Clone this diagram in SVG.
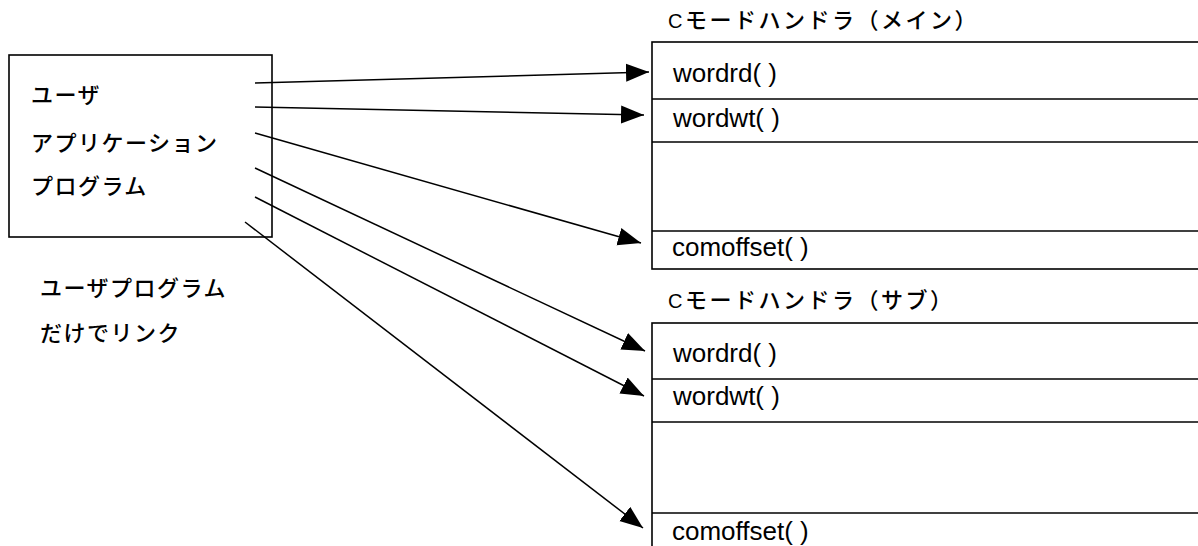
<svg xmlns="http://www.w3.org/2000/svg" width="1198" height="546" viewBox="0 0 1198 546">
<style>
.box{fill:#fff;stroke:#000;stroke-width:1.6}
.ln{stroke:#000;stroke-width:1.5;fill:none}
.jp{font-family:"Liberation Sans","Noto Sans CJK JP",sans-serif;font-size:22px;font-weight:500;letter-spacing:1.5px;fill:#000}
.ttl{font-family:"Liberation Sans","Noto Sans CJK JP",sans-serif;font-size:22px;font-weight:500;letter-spacing:2.5px;fill:#000}
.c{font-size:20px;font-weight:400}
.fn{font-family:"Liberation Sans","Noto Sans CJK JP",sans-serif;font-size:26px;fill:#000}
.arr{stroke:#000;stroke-width:1.5;fill:none;marker-end:url(#ah)}
</style>
<defs>
<marker id="ah" markerUnits="userSpaceOnUse" markerWidth="24" markerHeight="20" viewBox="0 0 24 20" refX="23" refY="10" orient="auto">
<path d="M0,1 L23,10 L0,19 Z" fill="#000"/>
</marker>
</defs>
<rect width="1198" height="546" fill="#fff"/>
<g id="user-app">
<rect class="box" x="9" y="55" width="263" height="182"/>
<text class="jp" x="31" y="103">ユーザ</text>
<text class="jp" x="31" y="151">アプリケーション</text>
<text class="jp" x="31" y="194">プログラム</text>
</g>
<g id="note">
<text class="jp" x="40" y="296">ユーザプログラム</text>
<text class="jp" x="40" y="341">だけでリンク</text>
</g>
<g id="main-handler">
<text class="ttl" x="668" y="28"><tspan class="c">C</tspan>モードハンドラ（メイン）</text>
<rect class="box" x="652" y="42" width="570" height="227"/>
<line class="ln" x1="652" y1="99" x2="1198" y2="99"/>
<line class="ln" x1="652" y1="142" x2="1198" y2="142"/>
<line class="ln" x1="652" y1="231" x2="1198" y2="231"/>
<text class="fn" x="673" y="82">wordrd( )</text>
<text class="fn" x="673" y="127">wordwt( )</text>
<text class="fn" x="672" y="256">comoffset( )</text>
</g>
<g id="sub-handler">
<text class="ttl" x="668" y="308"><tspan class="c">C</tspan>モードハンドラ（サブ）</text>
<rect class="box" x="652" y="323" width="570" height="240"/>
<line class="ln" x1="652" y1="379" x2="1198" y2="379"/>
<line class="ln" x1="652" y1="422" x2="1198" y2="422"/>
<line class="ln" x1="652" y1="513" x2="1198" y2="513"/>
<text class="fn" x="673" y="362">wordrd( )</text>
<text class="fn" x="673" y="405">wordwt( )</text>
<text class="fn" x="672" y="540">comoffset( )</text>
</g>
<g id="connectors">
<line class="arr" x1="255" y1="83" x2="649" y2="72"/>
<line class="arr" x1="255" y1="107" x2="644" y2="115"/>
<line class="arr" x1="255" y1="133" x2="641" y2="243"/>
<line class="arr" x1="255" y1="168" x2="645" y2="351"/>
<line class="arr" x1="255" y1="197" x2="644" y2="396"/>
<line class="arr" x1="245" y1="222" x2="643" y2="528"/>
</g>
</svg>
